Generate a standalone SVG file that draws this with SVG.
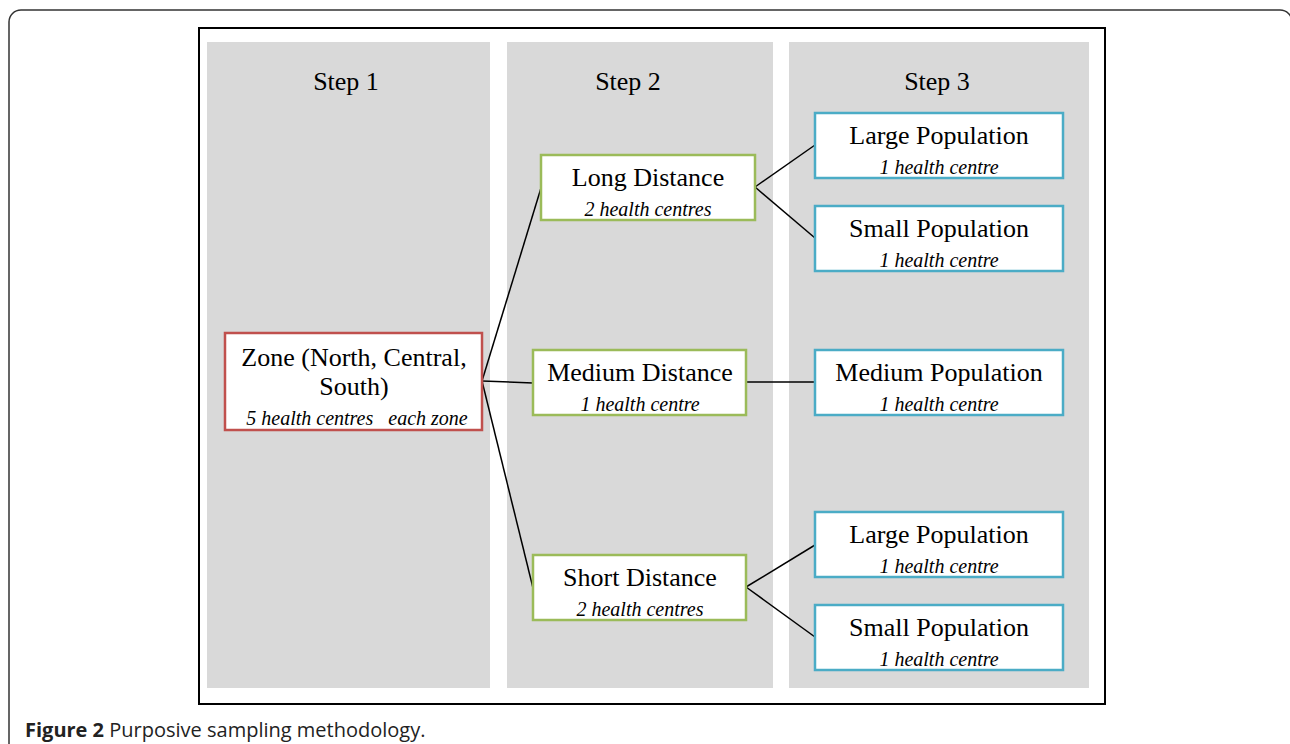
<svg xmlns="http://www.w3.org/2000/svg" width="1290" height="744" viewBox="0 0 1290 744">
<style>
.panel{fill:#d9d9d9}
.box{fill:#fff;stroke-width:2.5}
.red{stroke:#c0504d}
.green{stroke:#9bbb59}
.blue{stroke:#4bacc6}
.t{font-family:"Liberation Serif",serif;font-size:26px;fill:#000;text-anchor:middle}
.i{font-family:"Liberation Serif",serif;font-size:20px;font-style:italic;fill:#000;text-anchor:middle;white-space:pre}
.c line{stroke:#000;stroke-width:1.5}
.cap{font-family:"Open Sans","Noto Sans",sans-serif;font-size:20px;fill:#222}
</style>
<rect width="1290" height="744" fill="#fff"/>
<path d="M9,760 V22 A12,12 0 0 1 21,10 H1280 A12,12 0 0 1 1292,22" fill="none" stroke="#333" stroke-width="1.5"/>
<rect x="199" y="28" width="906" height="676" fill="#fff" stroke="#000" stroke-width="2"/>
<rect class="panel" x="207" y="42" width="283" height="646"/>
<rect class="panel" x="507" y="42" width="266" height="646"/>
<rect class="panel" x="789" y="42" width="300" height="646"/>
<text class="t" x="346" y="90">Step 1</text>
<text class="t" x="628" y="90">Step 2</text>
<text class="t" x="937" y="90">Step 3</text>
<g class="c" id="connectors">
<line x1="482" y1="381" x2="541" y2="188"/>
<line x1="482" y1="381" x2="533" y2="383"/>
<line x1="482" y1="381" x2="533" y2="588"/>
<line x1="755" y1="187" x2="815" y2="145"/>
<line x1="755" y1="187" x2="815" y2="238"/>
<line x1="746" y1="382" x2="815" y2="382"/>
<line x1="746" y1="587" x2="815" y2="545"/>
<line x1="746" y1="587" x2="815" y2="637"/>
</g>
<g id="zone">
<rect class="box red" x="225" y="333" width="257" height="97"/>
<text class="t" x="354" y="366">Zone (North, Central,</text>
<text class="t" x="354" y="395">South)</text>
<text class="i" x="357" y="425">5 health centres   each zone</text>
</g>
<g id="long">
<rect class="box green" x="541" y="155" width="214" height="65"/>
<text class="t" x="648" y="186">Long Distance</text>
<text class="i" x="648" y="216">2 health centres</text>
</g>
<g id="medium">
<rect class="box green" x="533" y="350" width="213" height="65"/>
<text class="t" x="640" y="381">Medium Distance</text>
<text class="i" x="640" y="411">1 health centre</text>
</g>
<g id="short">
<rect class="box green" x="533" y="555" width="213" height="65"/>
<text class="t" x="640" y="586">Short Distance</text>
<text class="i" x="640" y="616">2 health centres</text>
</g>
<g id="large1">
<rect class="box blue" x="815" y="113" width="248" height="65"/>
<text class="t" x="939" y="144">Large Population</text>
<text class="i" x="939" y="174">1 health centre</text>
</g>
<g id="small1">
<rect class="box blue" x="815" y="206" width="248" height="65"/>
<text class="t" x="939" y="237">Small Population</text>
<text class="i" x="939" y="267">1 health centre</text>
</g>
<g id="medpop">
<rect class="box blue" x="815" y="350" width="248" height="65"/>
<text class="t" x="939" y="381">Medium Population</text>
<text class="i" x="939" y="411">1 health centre</text>
</g>
<g id="large2">
<rect class="box blue" x="815" y="512" width="248" height="65"/>
<text class="t" x="939" y="543">Large Population</text>
<text class="i" x="939" y="573">1 health centre</text>
</g>
<g id="small2">
<rect class="box blue" x="815" y="605" width="248" height="65"/>
<text class="t" x="939" y="636">Small Population</text>
<text class="i" x="939" y="666">1 health centre</text>
</g>
<text class="cap" x="25" y="737"><tspan font-weight="bold">Figure 2</tspan> Purposive sampling methodology.</text>
</svg>
